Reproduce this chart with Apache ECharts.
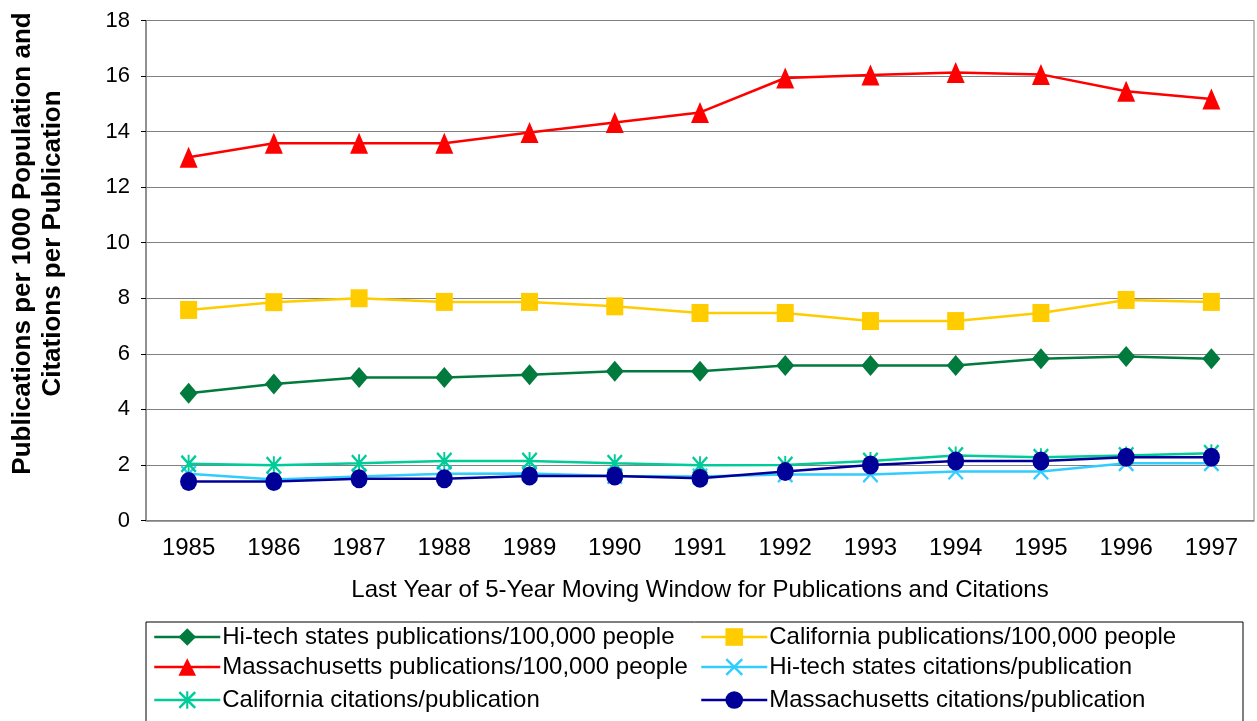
<!DOCTYPE html>
<html>
<head>
<meta charset="utf-8">
<script src="https://cdn.jsdelivr.net/npm/echarts@6/dist/echarts.min.js"></script>
<style>
  html, body { margin: 0; padding: 0; background: #fff; }
  #main { width: 1257px; height: 721px; }
</style>
</head>
<body>
<div id="main"></div>
<script>
// 数据
var years = ['1985', '1986', '1987', '1988', '1989', '1990', '1991', '1992', '1993', '1994', '1995', '1996', '1997'];
var hiTechPubs = [4.58, 4.91, 5.15, 5.15, 5.25, 5.37, 5.37, 5.58, 5.58, 5.58, 5.82, 5.9, 5.82];
var californiaPubs = [7.58, 7.86, 8.0, 7.87, 7.87, 7.71, 7.47, 7.47, 7.18, 7.18, 7.47, 7.94, 7.87];
var massPubs = [13.08, 13.58, 13.58, 13.58, 13.97, 14.33, 14.69, 15.93, 16.04, 16.13, 16.06, 15.45, 15.17];
var hiTechCites = [1.68, 1.48, 1.58, 1.68, 1.69, 1.6, 1.58, 1.66, 1.66, 1.76, 1.76, 2.06, 2.06];
var californiaCites = [2.04, 1.99, 2.06, 2.14, 2.14, 2.06, 1.99, 2.0, 2.14, 2.34, 2.28, 2.34, 2.42];
var massCites = [1.4, 1.4, 1.5, 1.5, 1.6, 1.6, 1.52, 1.76, 2.0, 2.14, 2.14, 2.28, 2.28];
var yMin = 0, yMax = 18, yStep = 2;

var names = [
  'Hi-tech states publications/100,000 people',
  'California publications/100,000 people',
  'Massachusetts publications/100,000 people',
  'Hi-tech states citations/publication',
  'California citations/publication',
  'Massachusetts citations/publication'
];

var font = "'Liberation Sans', Arial, sans-serif";

// X 和 星号 标记
var xMark = 'path://M1,0L10,9L9,10L0,1Z M9,0L10,1L1,10L0,9Z';
var starMark = 'path://M1,0L10,9L9,10L0,1Z M9,0L10,1L1,10L0,9Z M4.4,0L5.6,0L5.6,10L4.4,10Z';

function line (name, data, color, symbol, size) {
  return {
    name: name,
    type: 'line',
    data: data,
    symbol: symbol,
    symbolSize: size,
    lineStyle: { color: color, width: 2.5 },
    itemStyle: { color: color },
    emphasis: { disabled: true }
  };
}

// 图例：两列三行，每项单独放
function legendItem (name, left, top) {
  return {
    left: left,
    top: top,
    padding: 0,
    itemWidth: 66,
    itemHeight: 22,
    itemGap: 4,
    lineStyle: { width: 2.5 },
    textStyle: { color: '#000', fontSize: 24, fontFamily: font, lineHeight: 24, padding: [0, 0, 0, -3] },
    data: [name]
  };
}

var myChart = echarts.init(document.getElementById('main'));

let option = {
  animation: false,
  grid: { left: 143, right: 3, top: 20.5, bottom: 200.5, show: true, borderColor: '#808080', borderWidth: 1 },
  xAxis: {
    type: 'category',
    data: years,
    boundaryGap: true,
    name: 'Last Year of 5-Year Moving Window for Publications and Citations',
    nameLocation: 'middle',
    nameGap: 58,
    nameTextStyle: { color: '#000', fontSize: 24, fontFamily: font },
    axisLine: { lineStyle: { color: '#808080', width: 1.5 } },
    axisTick: { length: 5, lineStyle: { color: '#000' } },
    axisLabel: { color: '#000', fontSize: 24, fontFamily: font, margin: 16 }
  },
  yAxis: {
    type: 'value',
    min: yMin,
    max: yMax,
    interval: yStep,
    name: 'Publications per 1000 Population and\nCitations per Publication',
    nameLocation: 'middle',
    nameRotate: 90,
    nameGap: 78,
    nameTextStyle: { color: '#000', fontSize: 26, fontWeight: 'bold', fontFamily: font, lineHeight: 30, padding: [0, 0, 0, 54] },
    axisLine: { show: true, lineStyle: { color: '#808080', width: 1.5 } },
    axisTick: { show: true, length: 5, lineStyle: { color: '#000' } },
    axisLabel: { color: '#000', fontSize: 22, fontFamily: font, margin: 16 },
    splitLine: { lineStyle: { color: '#808080', width: 1 } }
  },
  legend: [
    legendItem(names[0], 153, 625),
    legendItem(names[1], 700, 625),
    legendItem(names[2], 153, 655),
    legendItem(names[3], 700, 655),
    legendItem(names[4], 153, 688),
    legendItem(names[5], 700, 688)
  ],
  graphic: [{
    type: 'rect',
    shape: { x: 146, y: 622, width: 1097, height: 130 },
    style: { fill: 'none', stroke: '#000', lineWidth: 1 },
    silent: true
  }],
  series: [
    line(names[0], hiTechPubs, '#007A3D', 'diamond', [18, 21]),
    line(names[1], californiaPubs, '#FFCC00', 'rect', [17, 18]),
    line(names[2], massPubs, '#FF0000', 'triangle', [18, 21]),
    line(names[3], hiTechCites, '#33CCFF', xMark, [16, 17]),
    line(names[4], californiaCites, '#00CC99', starMark, [16, 18]),
    line(names[5], massCites, '#000099', 'circle', [17, 19])
  ]
};

myChart.setOption(option);
</script>
</body>
</html>
